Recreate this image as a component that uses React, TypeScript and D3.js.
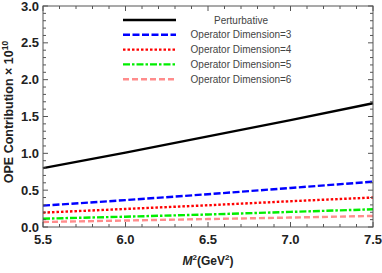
import React from 'react';
import * as d3 from 'd3';

// Data
const mSquared = [5.5, 6.0, 6.5, 7.0, 7.5];
const perturbative = [0.8, 1.01, 1.23, 1.45, 1.68];
const dim3 = [0.29, 0.365, 0.445, 0.53, 0.615];
const dim4 = [0.195, 0.245, 0.295, 0.35, 0.4];
const dim5 = [0.113, 0.14, 0.17, 0.205, 0.24];
const dim6 = [0.068, 0.088, 0.108, 0.128, 0.15];
const seriesNames = [
  'Perturbative',
  'Operator Dimension=3',
  'Operator Dimension=4',
  'Operator Dimension=5',
  'Operator Dimension=6',
];
const xTicks = [5.5, 6.0, 6.5, 7.0, 7.5];
const yTicks = [0, 0.5, 1.0, 1.5, 2.0, 2.5, 3.0];

const styles = [
  { color: '#000000', dash: '' },
  { color: '#0000ff', dash: '7,2.5' },
  { color: '#ff0000', dash: '2.5,2' },
  { color: '#00ee00', dash: '7,2,2.5,2' },
  { color: '#ff8c8c', dash: '6,3' },
];

const width = 382;
const height = 273;
const margin = { top: 6, right: 9, bottom: 46, left: 43 };
const font = 'Liberation Sans, Arial, sans-serif';

const App = () => {
  const x = d3.scaleLinear().domain([5.5, 7.5]).range([margin.left, width - margin.right]);
  const y = d3.scaleLinear().domain([0, 3]).range([height - margin.bottom, margin.top]);
  const allSeries = [perturbative, dim3, dim4, dim5, dim6];

  const line = d3
    .line<number>()
    .x((_, i) => x(mSquared[i]))
    .y((d) => y(d));

  const xMinor = d3.range(5.5, 7.5001, 0.1);
  const yMinor = d3.range(0, 3.0001, 0.1);
  const x0 = x.range()[0];
  const x1 = x.range()[1];
  const y0 = y.range()[0];
  const y1 = y.range()[1];
  const tickColor = '#555';

  return (
    <svg
      width={width}
      height={height}
      style={{ position: 'absolute', left: 0, top: 0, background: '#fff' }}
    >
      {/* series */}
      {allSeries.map((s, i) => (
        <path
          key={i}
          d={line(s) || ''}
          fill="none"
          stroke={styles[i].color}
          strokeWidth={2.4}
          strokeDasharray={styles[i].dash}
        />
      ))}

      {/* frame */}
      <rect x={x0} y={y1} width={x1 - x0} height={y0 - y1} fill="none" stroke={tickColor} strokeWidth={1} />

      {/* ticks on all four sides, minor every 0.1 */}
      {xMinor.map((v, i) => {
        const major = xTicks.some((t) => Math.abs(t - v) < 1e-6);
        const len = major ? 5 : 3;
        return (
          <g key={'xt' + i} stroke={tickColor} strokeWidth={1}>
            <line x1={x(v)} x2={x(v)} y1={y0} y2={y0 - len} />
            <line x1={x(v)} x2={x(v)} y1={y1} y2={y1 + len} />
          </g>
        );
      })}
      {yMinor.map((v, i) => {
        const major = yTicks.some((t) => Math.abs(t - v) < 1e-6);
        const len = major ? 5 : 3;
        return (
          <g key={'yt' + i} stroke={tickColor} strokeWidth={1}>
            <line x1={x0} x2={x0 + len} y1={y(v)} y2={y(v)} />
            <line x1={x1} x2={x1 - len} y1={y(v)} y2={y(v)} />
          </g>
        );
      })}

      {/* tick labels */}
      {xTicks.map((t) => (
        <text
          key={'xl' + t}
          x={x(t)}
          y={y0 + 17}
          textAnchor="middle"
          fontFamily={font}
          fontWeight="bold"
          fontSize={13}
          fill="#222"
        >
          {t.toFixed(1)}
        </text>
      ))}
      {yTicks.map((t) => (
        <text
          key={'yl' + t}
          x={x0 - 4}
          y={y(t) + 4.5}
          textAnchor="end"
          fontFamily={font}
          fontWeight="bold"
          fontSize={13}
          fill="#222"
        >
          {t.toFixed(1)}
        </text>
      ))}

      {/* axis titles */}
      <text
        x={(x0 + x1) / 2}
        y={height - 8}
        textAnchor="middle"
        fontFamily={font}
        fontWeight="bold"
        fontSize={12}
        fill="#222"
      >
        <tspan fontStyle="italic">M</tspan>
        <tspan dy={-5} fontSize={8}>2</tspan>
        <tspan dy={5}>(GeV</tspan>
        <tspan dy={-5} fontSize={8}>2</tspan>
        <tspan dy={5}>)</tspan>
      </text>
      <text
        transform={`translate(13, 112) rotate(-90)`}
        textAnchor="middle"
        fontFamily={font}
        fontWeight="bold"
        fontSize={12.5}
        fill="#222"
      >
        OPE Contribution × 10
        <tspan dy={-5} fontSize={8.5}>10</tspan>
      </text>

      {/* legend */}
      {seriesNames.map((name, i) => {
        const ly = 20 + i * 14.8;
        return (
          <g key={'lg' + i}>
            <line
              x1={123}
              x2={176}
              y1={ly}
              y2={ly}
              stroke={styles[i].color}
              strokeWidth={2.4}
              strokeDasharray={styles[i].dash}
            />
            <text
              x={241}
              y={ly + 3.5}
              textAnchor="middle"
              fontFamily={font}
              fontSize={10}
              fill="#444"
            >
              {name}
            </text>
          </g>
        );
      })}
    </svg>
  );
};

export default App;
